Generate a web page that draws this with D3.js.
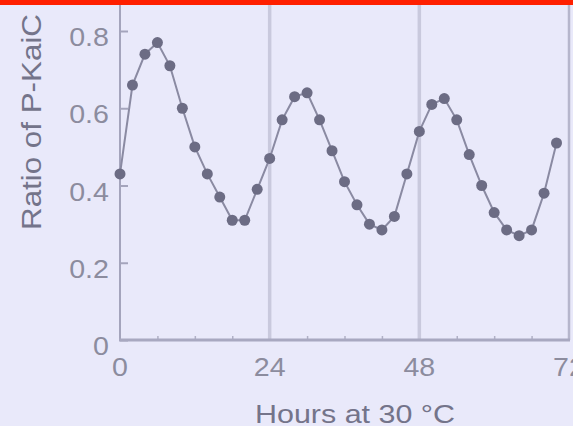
<!DOCTYPE html>
<html>
<head>
<meta charset="utf-8">
<script src="https://cdn.jsdelivr.net/npm/d3@7"></script>
<style>
  html, body { margin: 0; padding: 0; background: #e9e9fa; }
  svg { display: block; }
  text { font-family: "Liberation Sans", Arial, Helvetica, sans-serif; }
</style>
</head>
<body>
<svg id="chart" width="573" height="426"></svg>
<script>
// Sampling times (hours at 30 °C) and phosphorylated KaiC ratio
const hours = [0, 2, 4, 6, 8, 10, 12, 14, 16, 18, 20, 22,
               24, 26, 28, 30, 32, 34, 36, 38, 40, 42, 44, 46,
               48, 50, 52, 54, 56, 58, 60, 62, 64, 66, 68, 70];
const ratio = [0.43, 0.66, 0.74, 0.77, 0.71, 0.60, 0.50, 0.43, 0.37, 0.31, 0.31, 0.39,
               0.47, 0.57, 0.63, 0.64, 0.57, 0.49, 0.41, 0.35, 0.30, 0.285, 0.32, 0.43,
               0.54, 0.61, 0.625, 0.57, 0.48, 0.40, 0.33, 0.285, 0.27, 0.285, 0.38, 0.51];

const xTicks = [0, 24, 48, 72];
const xMinorTicks = [6, 12, 18, 30, 36, 42, 54, 60, 66];
const yTicks = [0, 0.2, 0.4, 0.6, 0.8];
const dayLines = [24, 48, 72];

const svg = d3.select("#chart");
const W = 573, H = 426;
const plotLeft = 120, plotRight = 569, plotBottom = 340, plotTop = 31;

const x = d3.scaleLinear().domain([0, 72]).range([plotLeft, plotRight]);
const y = d3.scaleLinear().domain([0, 0.8]).range([plotBottom, plotTop]);

svg.append("rect").attr("width", W).attr("height", H).attr("fill", "#e9e9fa");

// day boundaries
svg.append("g").selectAll("line").data(dayLines).join("line")
  .attr("x1", d => x(d)).attr("x2", d => x(d))
  .attr("y1", 5).attr("y2", plotBottom)
  .attr("stroke", d => d === 72 ? "#b6b6cc" : "#c9c9dd")
  .attr("stroke-width", d => d === 72 ? 2.5 : 3.5);

// y axis
const yAxis = d3.axisRight(y).tickValues(yTicks).tickSize(8).tickFormat("");
const gy = svg.append("g").attr("transform", `translate(${plotLeft},0)`).call(yAxis);
gy.select(".domain").remove();
gy.selectAll(".tick line").attr("stroke", "#a4a4bc").attr("stroke-width", 2);
svg.append("line").attr("x1", plotLeft).attr("x2", plotLeft).attr("y1", 5).attr("y2", plotBottom + 1)
  .attr("stroke", "#a4a4bc").attr("stroke-width", 2);

// x axis with minor ticks pointing inward
const gx = svg.append("g").attr("transform", `translate(0,${plotBottom})`)
  .call(d3.axisTop(x).tickValues(xMinorTicks).tickSize(4).tickFormat(""));
gx.select(".domain").remove();
gx.selectAll(".tick line").attr("stroke", "#b0b0c6").attr("stroke-width", 1.5);
svg.append("line").attr("x1", plotLeft - 1).attr("x2", plotRight + 1).attr("y1", plotBottom).attr("y2", plotBottom)
  .attr("stroke", "#a8a8c0").attr("stroke-width", 3);

// tick labels
const stretch = 1.1;
const yLabels = svg.append("g").selectAll("text").data(yTicks).join("text")
  .attr("x", 109).attr("y", d => y(d) + 15)
  .attr("text-anchor", "end")
  .attr("font-size", 26).attr("fill", "#8c8c9e")
  .text(d => d === 0 ? "0" : d3.format(".1f")(d));

const xLabels = svg.append("g").selectAll("text").data(xTicks).join("text")
  .attr("x", d => x(d)).attr("y", 376)
  .attr("text-anchor", "middle")
  .attr("font-size", 26).attr("fill", "#8c8c9e")
  .text(d => d);

[yLabels, xLabels].forEach(sel => sel.each(function () {
  const len = this.getComputedTextLength();
  d3.select(this).attr("textLength", len * stretch).attr("lengthAdjust", "spacingAndGlyphs");
}));

// axis titles
svg.append("text")
  .attr("x", 255).attr("y", 423)
  .attr("font-size", 25).attr("fill", "#74748a")
  .attr("textLength", 200).attr("lengthAdjust", "spacingAndGlyphs")
  .text("Hours at 30 °C");

svg.append("text")
  .attr("transform", "translate(41,230) rotate(-90)")
  .attr("font-size", 27).attr("fill", "#74748a")
  .attr("textLength", 216).attr("lengthAdjust", "spacingAndGlyphs")
  .text("Ratio of P-KaiC");

// series line and points
const pts = hours.map((h, i) => [h, ratio[i]]);
svg.append("path").datum(pts)
  .attr("fill", "none").attr("stroke", "#8a8aa2").attr("stroke-width", 2)
  .attr("d", d3.line().x(d => x(d[0])).y(d => y(d[1])));

svg.append("g").selectAll("circle").data(pts).join("circle")
  .attr("cx", d => x(d[0])).attr("cy", d => y(d[1]))
  .attr("r", 5.5).attr("fill", "#6c6c84");

// red strip along the top edge
svg.append("rect").attr("x", 0).attr("y", 0).attr("width", W).attr("height", 5).attr("fill", "#ff2000");
</script>
</body>
</html>
